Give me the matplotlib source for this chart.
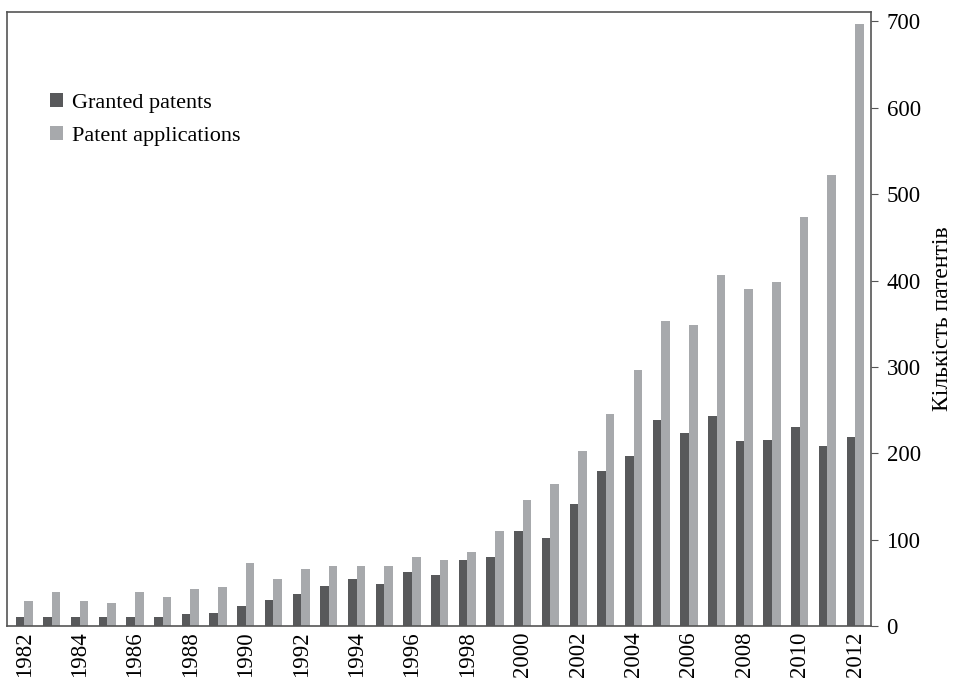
import matplotlib.pyplot as plt
import numpy as np

plt.rcParams['font.family'] = ['Liberation Serif', 'DejaVu Serif']

years = list(range(1982, 2013))
granted = [10, 10, 10, 11, 10, 10, 14, 15, 23, 30, 37, 46, 54, 49, 63, 59, 77, 80,
           110, 102, 141, 179, 197, 239, 223, 243, 214, 215, 230, 209, 219]
applications = [29, 39, 29, 27, 39, 34, 43, 45, 73, 54, 66, 69, 69, 69, 80, 77, 86, 110,
                146, 165, 203, 246, 297, 353, 349, 407, 390, 398, 474, 522, 697]

dark = '#58595b'
light = '#a7a9ac'
spine_col = '#555555'

fig = plt.figure(figsize=(9.55, 6.85), dpi=100)
ax = fig.add_axes([0.0073, 0.0861, 0.905, 0.8964])

x = np.arange(len(years))
w = 0.31
ax.bar(x - w/2, granted, width=w, color=dark, label='Granted patents')
ax.bar(x + w/2, applications, width=w, color=light, label='Patent applications')

ax.set_xlim(-0.62, len(years) - 0.42)
ax.set_ylim(0, 711)
ax.set_yticks(range(0, 701, 100))
ax.yaxis.tick_right()
ax.yaxis.set_label_position('right')
ax.set_ylabel('Кількість патентів', fontsize=17, labelpad=8)

ax.set_xticks(x[::2])
ax.set_xticklabels([str(y) for y in years[::2]], rotation=90, fontsize=16.5)
ax.tick_params(axis='x', length=0, pad=4)
ax.tick_params(axis='y', labelsize=16.5, length=5, direction='out', color=spine_col, pad=6)

for s in ax.spines.values():
    s.set_color(spine_col)
    s.set_linewidth(1.2)

ax.legend(loc='upper left', bbox_to_anchor=(0.027, 0.90), frameon=False, fontsize=16,
          handlelength=0.58, handleheight=0.58, handletextpad=0.4, labelspacing=0.58)

fig.savefig('out.png', dpi=100)
